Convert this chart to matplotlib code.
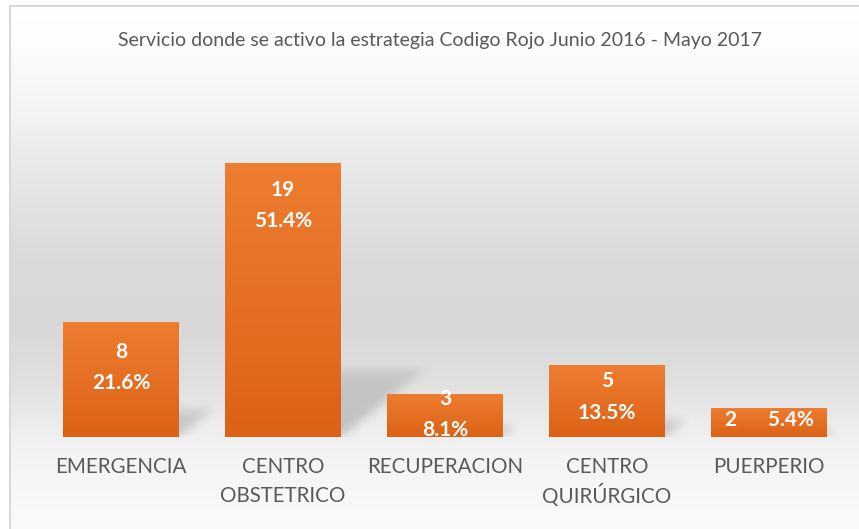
import numpy as np
import matplotlib
matplotlib.use("Agg")
import matplotlib.pyplot as plt
import matplotlib.transforms as mtransforms
from matplotlib.path import Path

# data
categories = ["EMERGENCIA", "CENTRO\nOBSTETRICO", "RECUPERACION", "CENTRO\nQUIRÚRGICO", "PUERPERIO"]
counts = [8, 19, 3, 5, 2]
percents = ["21.6%", "51.4%", "8.1%", "13.5%", "5.4%"]
title = "Servicio donde se activo la estrategia Codigo Rojo Junio 2016 - Mayo 2017"

W, H = 859, 529
fig = plt.figure(figsize=(W / 100, H / 100), dpi=100)
plt.rcParams['font.family'] = ['Lato', 'DejaVu Sans']

# background gradient (white -> grey -> light)
bg = fig.add_axes([0, 0, 1, 1], zorder=-2)
yy = np.arange(H)
stops_y = [0, 40, 115, 140, 260, 330, 380, 430, 460, 529]
stops_v = [255, 253, 243, 237, 218, 216, 224, 238, 244, 251]
col = np.interp(yy, stops_y, stops_v) / 255.0
img = np.repeat(col[:, None], W, axis=1)
img[:5, :] = 1.0
img[:, :9] = 1.0
img[5:7, 9:] = 0.85
img[5:, 9:11] = 0.85
bg.imshow(np.dstack([img, img, img]), extent=[0, W, H, 0], aspect='auto', interpolation='nearest')
bg.set_xlim(0, W)
bg.set_ylim(H, 0)
bg.axis('off')

ax = fig.add_axes([40 / W, 92 / H, 810 / W, 288 / H])
ax.patch.set_alpha(0)
x = np.arange(len(categories))
width = 0.71

# perspective shadows, rasterised in pixel space and blurred
nx, ny = 810, 288
px_per_x = nx / 5.0
px_per_y = ny / 20.0
gx, gy = np.meshgrid(np.arange(nx) + 0.5, np.arange(ny) + 0.5)
pts = np.column_stack([gx.ravel(), gy.ravel()])
shadow = np.zeros(ny * nx)
for i, c in enumerate(counts):
    x0 = (i - width / 2 + 0.5) * px_per_x
    x1 = (i + width / 2 + 0.5) * px_per_x
    hh = c * px_per_y
    dx, dy = 0.31 * hh, 0.25 * hh
    poly = Path([(x0, 0), (x1, 0), (x1 + dx, dy), (x0 + dx, dy), (x0, 0)])
    inside = poly.contains_points(pts)
    fade = 1 - 0.5 * np.clip(pts[:, 1] / max(dy, 1), 0, 1)
    shadow = np.maximum(shadow, inside * fade)
shadow = shadow.reshape(ny, nx)
k = np.ones(9) / 9.0
for _ in range(3):
    shadow = np.apply_along_axis(lambda r: np.convolve(r, k, mode='same'), 1, shadow)
    shadow = np.apply_along_axis(lambda r: np.convolve(r, k, mode='same'), 0, shadow)
rgba = np.zeros((ny, nx, 4))
rgba[..., 3] = shadow * 0.2
ax.imshow(rgba, extent=[-0.5, 4.5, 0, 20], origin='lower', aspect='auto', zorder=1)

# bars with vertical gradient
bars = ax.bar(x, counts, width=width, color='#E46F25', zorder=2)
top_c = np.array([237, 125, 49]) / 255
bot_c = np.array([220, 98, 21]) / 255
grad = np.linspace(0, 1, 100)[:, None]
gimg = top_c[None, None, :] * (1 - grad[..., None]) + bot_c[None, None, :] * grad[..., None]
for b in bars:
    bx, bw, bh = b.get_x(), b.get_width(), b.get_height()
    im = ax.imshow(gimg, extent=[bx, bx + bw, 0, bh], aspect='auto', zorder=3)
    im.set_clip_path(b)
ax.set_xlim(-0.5, 4.5)
ax.set_ylim(0, 20)

# data labels
label_off = [46, 42, 21, 32, 12]
for i, (c, p) in enumerate(zip(counts, percents)):
    txt = f"{c}\n{p}" if i < 4 else f"{c}      {p}"
    ax.annotate(txt, xy=(i, c), xytext=(0, -label_off[i] * 0.72), textcoords='offset points',
                ha='center', va='center', color='white', fontsize=15, fontweight='bold',
                linespacing=1.7, zorder=4)

# category labels, one text per line so accents do not shift the layout
trans = mtransforms.blended_transform_factory(ax.transData, ax.transAxes)
for i, cat in enumerate(categories):
    for j, line in enumerate(cat.split("\n")):
        ax.annotate(line, xy=(i, 0), xycoords=trans, xytext=(0, -(30 + 29 * j) * 0.72),
                    textcoords='offset points', ha='center', va='center',
                    fontsize=14.8, color='#595959')
ax.set_xticks([])
ax.set_yticks([])
for s in ax.spines.values():
    s.set_visible(False)

fig.text(440 / W, 1 - 40 / H, title, ha='center', va='center', fontsize=14, color='#595959')

fig.savefig("out.png", dpi=100)
